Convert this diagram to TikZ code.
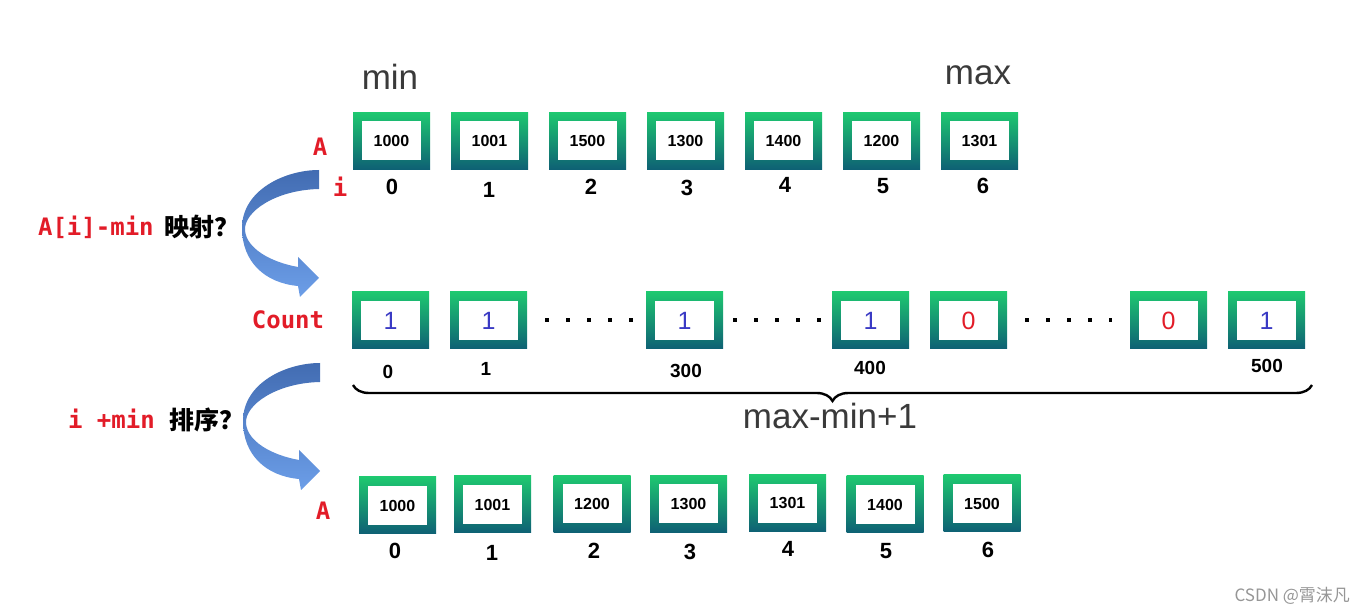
\documentclass[tikz,border=0pt]{standalone}
\usepackage{fontspec}
\setmainfont{Liberation Sans}
\newfontfamily\labelmono{DejaVu Sans Mono}
\newfontfamily\cjk{Noto Sans CJK SC}
\usetikzlibrary{decorations.pathreplacing}

\definecolor{celltop}{RGB}{30,200,112}
\definecolor{cellbot}{RGB}{14,96,116}
\definecolor{arrowtop}{RGB}{66,108,178}
\definecolor{arrowbot}{RGB}{108,158,232}
\definecolor{labelred}{RGB}{226,28,40}
\definecolor{countblue}{RGB}{58,58,196}
\definecolor{headgray}{RGB}{58,58,58}
\definecolor{markgray}{RGB}{150,150,150}

\tikzset{
	cellbox/.style={minimum width=38.5pt, minimum height=28.5pt, inner sep=0pt, top color=celltop, bottom color=cellbot},
	cellin/.style={fill=white, minimum width=29.5pt, minimum height=19.5pt, inner sep=0pt, font=\bfseries\fontsize{8}{10}\selectfont},
	countin/.style={cellin, font=\fontsize{12.5}{14}\selectfont},
	idxlbl/.style={font=\bfseries\fontsize{11}{13}\selectfont},
	cidxlbl/.style={font=\bfseries\fontsize{9.5}{11}\selectfont},
	headlbl/.style={text=headgray, font=\fontsize{17.5}{20}\selectfont},
	redlbl/.style={text=labelred, font=\labelmono\bfseries\fontsize{12}{14}\selectfont},
	cjklbl/.style={font=\cjk\bfseries\fontsize{12.5}{14}\selectfont},
	dotrow/.style={line width=2pt, dash pattern=on 2pt off 8.5pt},
	bracestyle/.style={line width=1.2pt, decorate, decoration={brace, mirror, amplitude=8pt}},
	bendarrow/.pic={
		\shade[top color=arrowtop, bottom color=arrowbot] (319,170) .. controls (285,170) and (242,190) .. (242,228) .. controls (242,262) and (265,283) .. (298,286) -- (300,297) -- (319,278) -- (298,257) -- (298,267) .. controls (270,262) and (246,248) .. (245,230) .. controls (244,212) and (275,190) .. (319,189) -- cycle;
	}
}

\begin{document}
\begin{tikzpicture}[x=0.5pt, y=-0.5pt]

		\useasboundingbox (0,0) rectangle (1372,614);

		% array A before
		\node[headlbl] (minlbl) at (390,77) {min};
		\node[headlbl] (maxlbl) at (978,75) {max};
		\node[redlbl] (aname) at (320,147) {A};
		\node[redlbl] (iname) at (340,187) {i};
		\node[cellbox] (a0) at (391.5,141) {}; \node[cellin] (av0) at (a0) {1000};
		\node[cellbox] (a1) at (489.5,141) {}; \node[cellin] (av1) at (a1) {1001};
		\node[cellbox] (a2) at (587.5,141) {}; \node[cellin] (av2) at (a2) {1500};
		\node[cellbox] (a3) at (685.5,141) {}; \node[cellin] (av3) at (a3) {1300};
		\node[cellbox] (a4) at (783.5,141) {}; \node[cellin] (av4) at (a4) {1400};
		\node[cellbox] (a5) at (881.5,141) {}; \node[cellin] (av5) at (a5) {1200};
		\node[cellbox] (a6) at (979.5,141) {}; \node[cellin] (av6) at (a6) {1301};
		\node[idxlbl] (ai0) at (392,187) {0};
		\node[idxlbl] (ai1) at (489,190) {1};
		\node[idxlbl] (ai2) at (591,187) {2};
		\node[idxlbl] (ai3) at (687,188) {3};
		\node[idxlbl] (ai4) at (785,185) {4};
		\node[idxlbl] (ai5) at (883,186) {5};
		\node[idxlbl] (ai6) at (983,186) {6};

		% mapping
		\pic at (0,0) {bendarrow};
		\node[redlbl, anchor=west] (maprule) at (31,227) {A[i]-min};
		\node[cjklbl, anchor=west] (maptext) at (157,227) {映射？};

		% count array
		\node[redlbl] (cname) at (288,320) {Count};
		\node[cellbox] (c0) at (390.5,320.5) {}; \node[countin, text=countblue] (cv0) at (c0) {1};
		\node[cellbox] (c1) at (488.5,320.5) {}; \node[countin, text=countblue] (cv1) at (c1) {1};
		\node[cellbox] (c2) at (684.5,320.5) {}; \node[countin, text=countblue] (cv2) at (c2) {1};
		\node[cellbox] (c3) at (870.5,320.5) {}; \node[countin, text=countblue] (cv3) at (c3) {1};
		\node[cellbox] (c4) at (968.5,320.5) {}; \node[countin, text=labelred] (cv4) at (c4) {0};
		\node[cellbox] (c5) at (1168.5,320.5) {}; \node[countin, text=labelred] (cv5) at (c5) {0};
		\node[cellbox] (c6) at (1266.5,320.5) {}; \node[countin, text=countblue] (cv6) at (c6) {1};
		\draw[dotrow, shorten <=9pt, shorten >=6.5pt] (c1) -- (c2);
		\draw[dotrow, shorten <=5pt, shorten >=5.5pt] (c2) -- (c3);
		\draw[dotrow, shorten <=9pt, shorten >=9pt] (c4) -- (c5);
		\node[cidxlbl] (ci0) at (388,372) {0};
		\node[cidxlbl] (ci1) at (486,369) {1};
		\node[cidxlbl] (ci2) at (686,371) {300};
		\node[cidxlbl] (ci3) at (870,368) {400};
		\node[cidxlbl] (ci6) at (1267,366) {500};
		\coordinate (bracel) at (353,385);
		\coordinate (bracer) at (1312,385);
		\draw[bracestyle] (bracel) -- (bracer);
		\node[headlbl] (rangelbl) at (830,416) {max-min+1};

		% sorting back
		\pic at (1,193) {bendarrow};
		\node[redlbl, anchor=west] (sortrule) at (61,419) {i +min};
		\node[cjklbl, anchor=west] (sorttext) at (162,420) {排序？};

		% array A after
		\node[redlbl] (bname) at (323,511) {A};
		\node[cellbox] (b0) at (397.5,505.5) {}; \node[cellin] (bv0) at (b0) {1000};
		\node[cellbox] (b1) at (492.5,504.5) {}; \node[cellin] (bv1) at (b1) {1001};
		\node[cellbox] (b2) at (592,504) {}; \node[cellin] (bv2) at (b2) {1200};
		\node[cellbox] (b3) at (688.5,504) {}; \node[cellin] (bv3) at (b3) {1300};
		\node[cellbox] (b4) at (787.5,503.5) {}; \node[cellin] (bv4) at (b4) {1301};
		\node[cellbox] (b5) at (885,504.5) {}; \node[cellin] (bv5) at (b5) {1400};
		\node[cellbox] (b6) at (982,503.5) {}; \node[cellin] (bv6) at (b6) {1500};
		\node[idxlbl] (bi0) at (395,551) {0};
		\node[idxlbl] (bi1) at (492,553) {1};
		\node[idxlbl] (bi2) at (594,551) {2};
		\node[idxlbl] (bi3) at (690,552) {3};
		\node[idxlbl] (bi4) at (788,549) {4};
		\node[idxlbl] (bi5) at (886,551) {5};
		\node[idxlbl] (bi6) at (988,550) {6};

		\node[anchor=east, text=markgray, font=\cjk\fontsize{8.5}{10}\selectfont] (wmark) at (1357,596) {CSDN @霄沫凡};

\end{tikzpicture}
\end{document}
